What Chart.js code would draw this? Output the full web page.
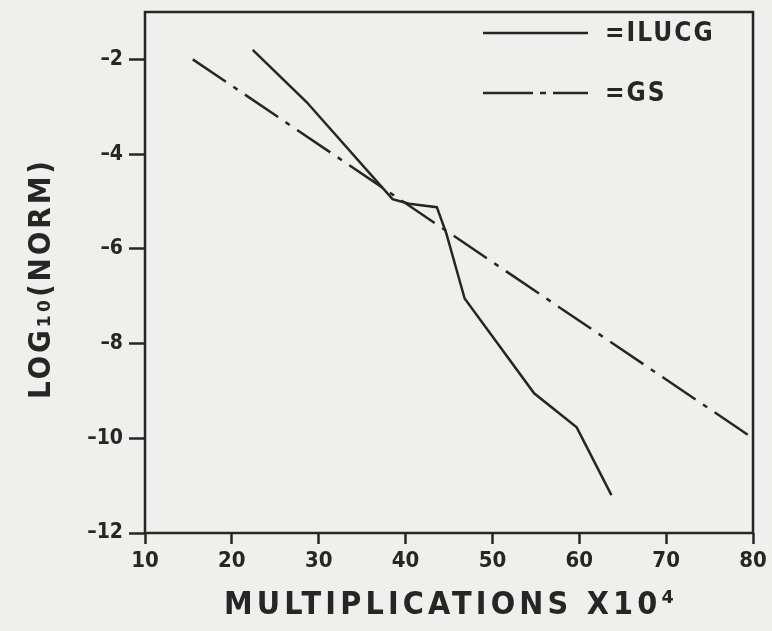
<!DOCTYPE html>
<html>
<head>
<meta charset="utf-8">
<script src="https://cdn.jsdelivr.net/npm/chart.js@4"></script>
<style>
  html, body { margin: 0; padding: 0; background: #efefed; }
  #wrap { width: 772px; height: 631px; }
</style>
</head>
<body>
<div id="wrap"><canvas id="myChart" width="772" height="631"></canvas></div>
<script>
// data
const xTicks = [10, 20, 30, 40, 50, 60, 70, 80];
const yTicks = [-12, -10, -8, -6, -4, -2];

const ilucgX = [22.4, 28.6, 38.5, 40.4, 43.6, 44.7, 46.8, 54.8, 59.7, 63.7];
const ilucgY = [-1.8, -2.9, -4.95, -5.05, -5.12, -5.68, -7.05, -9.05, -9.77, -11.2];

const gsX = [15.5, 80];
const gsY = [-2.0, -10.0];

const seriesNames = ['=ILUCG', '=GS'];
const xTitle = 'MULTIPLICATIONS X10\u2074';
const yTitle = 'LOG\u2081\u2080(NORM)';

const INK = '#262626';
const GS_DASH = [40, 9, 5, 9];
const FONT = '"DejaVu Sans Condensed"';

function toPoints(xs, ys) {
    return xs.map((x, i) => ({ x: x, y: ys[i] }));
}

// fit a text line into a given width by spreading the letters
function spacedText(ctx, text, x, y, width) {
    ctx.letterSpacing = '0px';
    const w = ctx.measureText(text).width;
    const gap = Math.max(0, (width - w) / (text.length - 1));
    ctx.letterSpacing = gap + 'px';
    ctx.textAlign = 'left';
    ctx.fillText(text, x - width / 2, y);
    ctx.letterSpacing = '0px';
}

// frame, legend and axis titles
const paperPlugin = {
    id: 'paper',
    afterDraw(chart) {
        const ctx = chart.ctx;
        const a = chart.chartArea;
        ctx.save();
        ctx.strokeStyle = INK;
        ctx.lineWidth = 2.5;
        ctx.strokeRect(a.left, a.top, a.right - a.left, a.bottom - a.top);

        // legend inside plot
        const lx0 = 483, lx1 = 588;
        const rows = [33, 93];
        rows.forEach((y, i) => {
            ctx.setLineDash(i === 1 ? [50, 7, 6, 7, 40] : []);
            ctx.beginPath();
            ctx.moveTo(lx0, y);
            ctx.lineTo(lx1, y);
            ctx.stroke();
        });
        ctx.setLineDash([]);
        ctx.fillStyle = INK;
        ctx.font = 'bold 26px ' + FONT;
        ctx.textBaseline = 'middle';
        ctx.textAlign = 'left';
        ctx.letterSpacing = '2px';
        rows.forEach((y, i) => ctx.fillText(seriesNames[i], 605, y + 1));
        ctx.letterSpacing = '0px';

        // x title
        ctx.font = 'bold 32px ' + FONT;
        spacedText(ctx, xTitle, (a.left + a.right) / 2, 606, 450);

        // y title
        ctx.save();
        ctx.translate(42, 280);
        ctx.rotate(-Math.PI / 2);
        ctx.font = 'bold 31px ' + FONT;
        spacedText(ctx, yTitle, 0, 0, 238);
        ctx.restore();

        ctx.restore();
    }
};

const data = {
    datasets: [{
        label: seriesNames[0],
        data: toPoints(ilucgX, ilucgY),
        borderColor: INK,
        borderWidth: 2.5,
        pointRadius: 0,
        tension: 0,
        fill: false,
    }, {
        label: seriesNames[1],
        data: toPoints(gsX, gsY),
        borderColor: INK,
        borderWidth: 2.5,
        borderDash: GS_DASH,
        pointRadius: 0,
        tension: 0,
        fill: false,
    }]
};

const config = {
    type: 'line',
    data: data,
    plugins: [paperPlugin],
    options: {
        responsive: false,
        animation: false,
        layout: { padding: { top: 12, right: 19, left: 0, bottom: 0 } },
        plugins: {
            legend: { display: false },
            tooltip: { enabled: false },
        },
        scales: {
            x: {
                type: 'linear',
                min: 10,
                max: 80,
                afterBuildTicks: (scale) => { scale.ticks = xTicks.map(v => ({ value: v })); },
                afterFit: (scale) => { scale.height = 98; scale.paddingLeft = 0; scale.paddingRight = 0; },
                grid: {
                    drawOnChartArea: false,
                    tickLength: 11,
                    tickWidth: 2.5,
                    color: INK,
                },
                border: { display: false },
                ticks: {
                    color: INK,
                    padding: 4,
                    maxRotation: 0,
                    font: { family: 'DejaVu Sans Condensed', weight: 'bold', size: 22 },
                },
            },
            y: {
                type: 'linear',
                min: -12,
                max: -1,
                afterBuildTicks: (scale) => { scale.ticks = yTicks.map(v => ({ value: v })); },
                afterFit: (scale) => { scale.width = 145; scale.paddingTop = 0; scale.paddingBottom = 0; },
                grid: {
                    drawOnChartArea: false,
                    tickLength: 16,
                    tickWidth: 2.5,
                    color: INK,
                },
                border: { display: false },
                ticks: {
                    color: INK,
                    padding: 6,
                    font: { family: 'DejaVu Sans Condensed', weight: 'bold', size: 21 },
                    callback: (v) => String(v).replace('-', '\u2013'),
                },
            },
        },
    }
};

const ctx = document.getElementById('myChart').getContext('2d');
const myChart = new Chart(ctx, config);
</script>
</body>
</html>
